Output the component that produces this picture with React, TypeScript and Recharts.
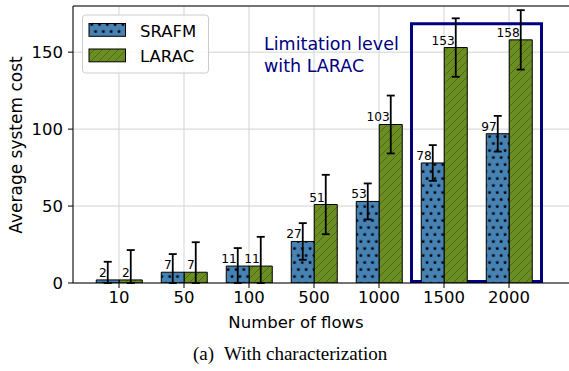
import React from 'react';
import {
  BarChart,
  Bar,
  XAxis,
  YAxis,
  CartesianGrid,
  ErrorBar,
  LabelList,
  ReferenceArea,
  ReferenceLine,
  Customized,
} from 'recharts';

const categories = ['10', '50', '100', '500', '1000', '1500', '2000'];
const srafmValues = [2, 7, 11, 27, 53, 78, 97];
const laracValues = [2, 7, 11, 51, 103, 153, 158];
const srafmErrors = [11.8, 11.8, 11.7, 11.9, 11.7, 11.6, 11.6];
const laracErrors = [19.4, 19.5, 19, 19.3, 18.8, 19, 19.3];
const yTicks = [0, 50, 100, 150];
const seriesNames = ['SRAFM', 'LARAC'];
const highlightRange = ['1500', '2000'];
const highlightY = [1, 168.5];
const annotationLines = ['Limitation level', 'with LARAC'];
const xLabel = 'Number of flows';
const yLabel = 'Average system cost';
const captionTag = '(a)';
const captionText = 'With characterization';

const data = categories.map((c, i) => ({
  flows: c,
  srafm: srafmValues[i],
  larac: laracValues[i],
  // error bars are clipped at the x axis (value 0), as in the plot
  srafmErr: [Math.min(srafmErrors[i], srafmValues[i]), srafmErrors[i]],
  laracErr: [Math.min(laracErrors[i], laracValues[i]), laracErrors[i]],
}));

const FONT = '"DejaVu Sans", sans-serif';
const BLUE = '#4682b4';
const GREEN = '#6b8e23';
const NAVY = '#000080';

function starPath(cx: number, cy: number, R: number, r: number) {
  const pts: string[] = [];
  for (let k = 0; k < 10; k++) {
    const a = ((-90 + 36 * k) * Math.PI) / 180;
    const rad = k % 2 === 0 ? R : r;
    pts.push(`${(cx + rad * Math.cos(a)).toFixed(2)},${(cy + rad * Math.sin(a)).toFixed(2)}`);
  }
  return 'M' + pts.join('L') + 'Z';
}

const BarValueLabel = (props: any) => {
  const { x, y, width, value } = props;
  return (
    <text
      x={Number(x) + Number(width) / 2 - 1}
      y={Number(y) - 3}
      textAnchor="end"
      fontSize={12.2}
      fontFamily={FONT}
      fill="#000"
    >
      {value}
    </text>
  );
};

const XTick = (props: any) => {
  const { x, y, payload } = props;
  return (
    <text x={x} y={y} dy={13} textAnchor="middle" fontSize={16.5} fontFamily={FONT} fill="#000">
      {payload.value}
    </text>
  );
};

const YTick = (props: any) => {
  const { x, y, payload } = props;
  return (
    <text x={x} y={y} dy={6} textAnchor="end" fontSize={16.5} fontFamily={FONT} fill="#000">
      {payload.value}
    </text>
  );
};

const Overlay = () => (
  <g>
    {/* legend */}
    <rect x={82.5} y={15} width={126} height={58} rx={3} fill="#fff" fillOpacity={0.85} stroke="#cccccc" strokeWidth={1} />
    <rect x={89} y={23.5} width={36.5} height={12.8} fill="url(#starPat)" stroke="#000" strokeWidth={1} />
    <text x={140} y={36.5} fontSize={16.5} fontFamily={FONT} fill="#000">{seriesNames[0]}</text>
    <rect x={89} y={49} width={36.5} height={12.8} fill="url(#hatchPat)" stroke="#000" strokeWidth={1} />
    <text x={140} y={61.5} fontSize={16.5} fontFamily={FONT} fill="#000">{seriesNames[1]}</text>
    {/* annotation */}
    <text x={264} y={50} fontSize={17.5} fontFamily={FONT} fill={NAVY}>{annotationLines[0]}</text>
    <text x={264} y={72} fontSize={17.5} fontFamily={FONT} fill={NAVY}>{annotationLines[1]}</text>
    {/* axis labels */}
    <text x={296} y={328} textAnchor="middle" fontSize={16.5} fontFamily={FONT} fill="#000">{xLabel}</text>
    <text
      x={22}
      y={145}
      textAnchor="middle"
      fontSize={17}
      fontFamily={FONT}
      fill="#000"
      transform="rotate(-90 22 145)"
    >
      {yLabel}
    </text>
    {/* caption */}
    <text x={193} y={360} fontSize={19} fontFamily='"Liberation Serif", "Times New Roman", serif' fill="#000">{captionTag}</text>
    <text x={224} y={360} fontSize={19} fontFamily='"Liberation Serif", "Times New Roman", serif' fill="#000">{captionText}</text>
  </g>
);

export default function App() {
  return (
    <div style={{ position: 'absolute', left: 0, top: 0, width: 569, height: 371, overflow: 'hidden', background: '#fff' }}>
      <BarChart
        width={585}
        height={371}
        data={data}
        margin={{ top: 6, right: 5, bottom: 58, left: 13 }}
        barCategoryGap="15%"
        barGap={0}
      >
        <defs>
          <pattern id="starPat" patternUnits="userSpaceOnUse" width={7.8} height={14}>
            <rect x={0} y={0} width={7.8} height={14} fill={BLUE} />
            <path d={starPath(2, 3.5, 2.3, 0.95)} fill="#000" />
            <path d={starPath(5.9, 10.5, 2.3, 0.95)} fill="#000" />
          </pattern>
          <pattern id="hatchPat" patternUnits="userSpaceOnUse" width={8} height={8}>
            <rect x={0} y={0} width={8} height={8} fill={GREEN} />
            <path d="M-2,2 L2,-2 M0,8 L8,0 M6,10 L10,6" stroke="#2a3a0a" strokeWidth={0.8} strokeOpacity={0.55} />
          </pattern>
        </defs>
        <CartesianGrid stroke="#d3d3d3" strokeWidth={1} />
        <XAxis
          dataKey="flows"
          padding={{ left: 13.5, right: 38.5 }}
          height={30}
          axisLine={{ stroke: '#000', strokeWidth: 1 }}
          tickLine={{ stroke: '#000', strokeWidth: 1 }}
          tickSize={5}
          tickMargin={2}
          tick={<XTick />}
          interval={0}
        />
        <YAxis
          domain={[0, 180]}
          ticks={yTicks}
          allowDataOverflow
          width={60}
          axisLine={{ stroke: '#000', strokeWidth: 1 }}
          tickLine={{ stroke: '#000', strokeWidth: 1 }}
          tickSize={5}
          tickMargin={5}
          tick={<YTick />}
        />
        <ReferenceLine y={180} stroke="#000" strokeWidth={1} />
        <Bar dataKey="srafm" name={seriesNames[0]} fill="url(#starPat)" stroke="#000" strokeWidth={1} isAnimationActive={false}>
          <ErrorBar dataKey="srafmErr" direction="y" width={4} stroke="#000" strokeWidth={1.8} />
          <LabelList dataKey="srafm" content={BarValueLabel} />
        </Bar>
        <Bar dataKey="larac" name={seriesNames[1]} fill="url(#hatchPat)" stroke="#000" strokeWidth={1} isAnimationActive={false}>
          <ErrorBar dataKey="laracErr" direction="y" width={4} stroke="#000" strokeWidth={1.8} />
          <LabelList dataKey="larac" content={BarValueLabel} />
        </Bar>
        <ReferenceArea
          x1={highlightRange[0]}
          x2={highlightRange[1]}
          y1={highlightY[0]}
          y2={highlightY[1]}
          fill="none"
          stroke={NAVY}
          strokeWidth={3}
          ifOverflow="visible"
        />
        <Customized component={<Overlay />} />
      </BarChart>
    </div>
  );
}
